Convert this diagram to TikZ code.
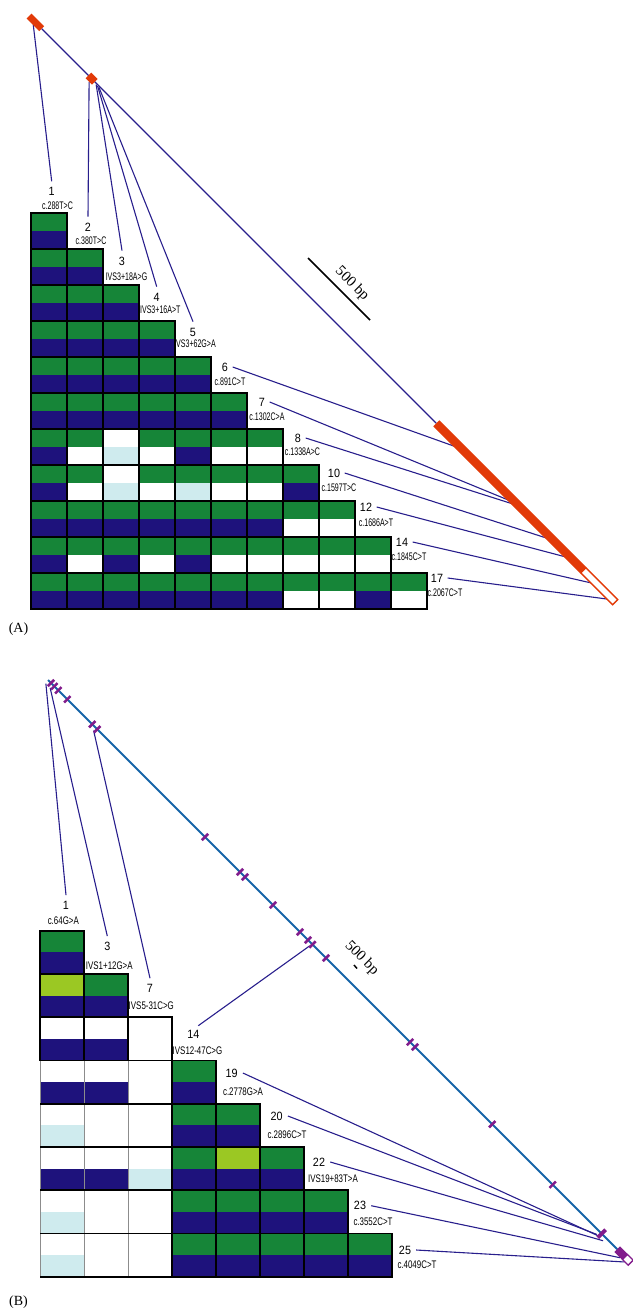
\documentclass[tikz,border=0pt]{standalone}
\usepackage{fontspec}
\setmainfont{Liberation Serif}
\newfontfamily\numfont[FakeStretch=0.9]{Liberation Sans}
\newfontfamily\mutAfont[FakeStretch=0.64]{Liberation Sans}
\newfontfamily\mutBfont[FakeStretch=0.72]{Liberation Sans}
\usetikzlibrary{calc}

% haplotype cell colours
\definecolor{cG}{RGB}{22,133,56}
\definecolor{cN}{RGB}{30,18,124}
\definecolor{cW}{RGB}{255,255,255}
\definecolor{cC}{RGB}{207,235,238}
\definecolor{cY}{RGB}{155,200,35}
% gene drawing colours
\definecolor{exonA}{RGB}{226,58,8}
\definecolor{exonB}{RGB}{130,28,140}
\definecolor{intronB}{RGB}{22,100,168}
\definecolor{link}{RGB}{40,30,140}

% one row of two-colour cells: #1 = row index, #2 = list of top/bottom colour codes
\newcommand\gridrowA[2]{\foreach \t/\b [count=\c] in {#2}{%
  \path[fill=c\t] ({31+36*(\c-1)},{213+36*(#1-1)}) rectangle +(36,18);
  \path[fill=c\b] ({31+36*(\c-1)},{231+36*(#1-1)}) rectangle +(36,18);}}
\newcommand\gridrowB[2]{\foreach \t/\b [count=\c] in {#2}{%
  \path[fill=c\t] ({40+44*(\c-1)},{930.7+43.25*(#1-1)}) rectangle +(44,21.625);
  \path[fill=c\b] ({40+44*(\c-1)},{952.325+43.25*(#1-1)}) rectangle +(44,21.625);}}

\begin{document}
\begin{tikzpicture}[x=1pt,y=-1pt,
  num/.style={font=\numfont\fontsize{12}{12}\selectfont,inner sep=0pt},
  mutA/.style={font=\mutAfont\fontsize{11}{11}\selectfont,inner sep=0pt},
  mutB/.style={font=\mutBfont\fontsize{11}{11}\selectfont,inner sep=0pt},
  linkline/.style={draw=link,line width=1.1pt},
  cellframe/.style={draw=black,line width=1.8pt},
  scaletext/.style={font=\fontsize{15}{15}\selectfont,inner sep=0pt},
  panel/.style={font=\fontsize{14}{14}\selectfont,inner sep=0pt}]
\useasboundingbox (0,0) rectangle (632,1312);

% ---------------- panel A: labels ----------------
\node[num]  (nA1)  at (51.7,191.7) {1};   \node[mutA] (mA1)  at (57.5,206)  {c.288T>C};
\node[num]  (nA2)  at (88,227)     {2};   \node[mutA] (mA2)  at (91,241)    {c.380T>C};
\node[num]  (nA3)  at (122,261)    {3};   \node[mutA] (mA3)  at (126.5,277) {IVS3+18A>G};
\node[num]  (nA4)  at (156.7,297)  {4};   \node[mutA] (mA4)  at (160.3,310) {IVS3+16A>T};
\node[num]  (nA5)  at (193,332)    {5};   \node[mutA] (mA5)  at (195,344)   {IVS3+62G>A};
\node[num]  (nA6)  at (225,367)    {6};   \node[mutA] (mA6)  at (230,382)   {c.891C>T};
\node[num]  (nA7)  at (262,402)    {7};   \node[mutA] (mA7)  at (267,417)   {c.1302C>A};
\node[num]  (nA8)  at (298,438)    {8};   \node[mutA] (mA8)  at (302.5,452) {c.1338A>C};
\node[num]  (nA10) at (334,473)    {10};  \node[mutA] (mA10) at (339,488)   {c.1597T>C};
\node[num]  (nA12) at (366,507)    {12};  \node[mutA] (mA12) at (376,523)   {c.1686A>T};
\node[num]  (nA14) at (402,542)    {14};  \node[mutA] (mA14) at (409,557)   {c.1845C>T};
\node[num]  (nA17) at (437,578)    {17};  \node[mutA] (mA17) at (445,593)   {c.2067C>T};

% attachment points on gene A
\begin{scope}[shift={(29,16)},rotate=-45]
  \coordinate (gA1)  at (9,3);
  \coordinate (gA2)  at (89,4);
  \coordinate (gA3)  at (96,1);
  \coordinate (gA4)  at (98,1);
  \coordinate (gA5)  at (100,1);
  \coordinate (gA6)  at (606,3);
  \coordinate (gA7)  at (682,3);
  \coordinate (gA8)  at (687,3);
  \coordinate (gA10) at (735.5,3);
  \coordinate (gA12) at (762,3);
  \coordinate (gA14) at (799,3);
  \coordinate (gA17) at (821.7,3);
\end{scope}

% connectors A
\foreach \k in {1,2,3,4,5}
  \draw[linkline] (gA\k) -- ([yshift=6pt]nA\k.north);
\foreach \k in {6,7,8,10,12,14,17}
  \draw[linkline] ([xshift=4.5pt]nA\k.east) -- (gA\k);

% gene A
\begin{scope}[shift={(29,16)},rotate=-45]
  \draw[link,line width=1.2pt] (18,0) -- (576,0);
  \draw[exonA,line width=7pt] (0,0) -- (18,0);
  \draw[exonA,line width=8pt] (84,0) -- (93,0);
  \draw[exonA,line width=8.5pt] (576,0) -- (784,0);
  \draw[exonA,line width=1.3pt,fill=white] (784,-3.6) rectangle (829,3.6);
\end{scope}

% scale bar A
\draw[black,line width=1.5pt] (308,258) -- (370,320);
\node[scaletext,rotate=-45] (sA) at (352,284) {500 bp};

% haplotype grid A
\gridrowA{1}{G/N}
\gridrowA{2}{G/N,G/N}
\gridrowA{3}{G/N,G/N,G/N}
\gridrowA{4}{G/N,G/N,G/N,G/N}
\gridrowA{5}{G/N,G/N,G/N,G/N,G/N}
\gridrowA{6}{G/N,G/N,G/N,G/N,G/N,G/N}
\gridrowA{7}{G/N,G/W,W/C,G/W,G/N,G/W,G/W}
\gridrowA{8}{G/N,G/W,W/C,G/W,G/C,G/W,G/W,G/N}
\gridrowA{9}{G/N,G/N,G/N,G/N,G/N,G/N,G/N,G/W,G/W}
\gridrowA{10}{G/N,G/W,G/N,G/W,G/N,G/W,G/W,G/W,G/W,G/W}
\gridrowA{11}{G/N,G/N,G/N,G/N,G/N,G/N,G/N,G/W,G/W,G/N,G/W}
\foreach \r in {1,...,11}
  \foreach \c in {1,...,\r}
    \draw[cellframe] ({31+36*(\c-1)},{213+36*(\r-1)}) rectangle +(36,36);

\node[panel] (pA) at (18.5,629) {(A)};

% ---------------- panel B: labels ----------------
\node[num] (nB1)  at (66,905)      {1};   \node[mutB] (mB1)  at (63.3,920.7)  {c.64G>A};
\node[num] (nB3)  at (107.3,946)   {3};   \node[mutB] (mB3)  at (109.3,966)   {IVS1+12G>A};
\node[num] (nB7)  at (150,988)     {7};   \node[mutB] (mB7)  at (151.3,1005.7){IVS5-31C>G};
\node[num] (nB14) at (193.3,1034)  {14};  \node[mutB] (mB14) at (197.5,1050.7){IVS12-47C>G};
\node[num] (nB19) at (231.7,1073)  {19};  \node[mutB] (mB19) at (243,1092)    {c.2778G>A};
\node[num] (nB20) at (276.7,1116)  {20};  \node[mutB] (mB20) at (287,1135)    {c.2896C>T};
\node[num] (nB22) at (319,1162)    {22};  \node[mutB] (mB22) at (333,1179)    {IVS19+83T>A};
\node[num] (nB23) at (360,1205.7)  {23};  \node[mutB] (mB23) at (373,1222)    {c.3552C>T};
\node[num] (nB25) at (405,1250)    {25};  \node[mutB] (mB25) at (417,1265)    {c.4049C>T};

% attachment points on gene B
\begin{scope}[shift={(48,680)},rotate=-45]
  \coordinate (gB1)  at (1,4);
  \coordinate (gB3)  at (7,4);
  \coordinate (gB7)  at (68,3.5);
  \coordinate (gB14) at (373,3);
  \coordinate (gB19) at (782,4);
  \coordinate (gB20) at (780,4);
  \coordinate (gB22) at (789,4);
  \coordinate (gB23) at (813,4);
  \coordinate (gB25) at (819,4);
\end{scope}

% connectors B
\foreach \k in {1,3,7}
  \draw[linkline] (gB\k) -- ([yshift=5.5pt]nB\k.north);
\draw[linkline] (gB14) -- ([shift={(5,-4)}]nB14.north);
\foreach \k in {19,20,22,23,25}
  \draw[linkline] ([xshift=5pt]nB\k.east) -- (gB\k);

% gene B
\begin{scope}[shift={(48,680)},rotate=-45]
  \draw[intronB,line width=1.8pt] (0,0) -- (805,0);
  \foreach \t in {4.2,8.9,14.6,27.3,62.6,69.7,222,271.5,278.6,318.2,356.4,367.7,374,393.2,512,519,628.3,713.7}
    \draw[exonB,line width=2.6pt] (\t,-4.5) -- (\t,4.5);
  \draw[exonB,line width=4pt] (783,-5.5) -- (783,5.5);
  \draw[exonB,line width=8pt] (805,0) -- (816,0);
  \draw[exonB,line width=1.3pt,fill=white] (816,-3.5) rectangle (824,3.5);
\end{scope}

% scale bar B
\draw[black,line width=1.5pt] (354,965) -- (357,968.5);
\node[scaletext,rotate=-45] (sB) at (361.7,958.3) {500 bp};

% haplotype grid B
\gridrowB{1}{G/N}
\gridrowB{2}{Y/N,G/N}
\gridrowB{3}{W/N,W/N,W/W}
\gridrowB{4}{W/N,W/N,W/W,G/N}
\gridrowB{5}{W/C,W/W,W/W,G/N,G/N}
\gridrowB{6}{W/N,W/N,W/C,G/N,Y/N,G/N}
\gridrowB{7}{W/C,W/W,W/W,G/N,G/N,G/N,G/N}
\gridrowB{8}{W/C,W/W,W/W,G/N,G/N,G/N,G/N,G/N}
% lighter vertical rules in the left block of the lower rows
\foreach \r in {4,...,8}
  \foreach \c in {1,2,3}
    \draw[black!45,line width=1pt] ({40+44*(\c-1)},{930.7+43.25*(\r-1)}) rectangle +(44,43.25);
\foreach \r in {4,...,9}
  \draw[black,line width=1.8pt] (40,{930.7+43.25*(\r-1)}) -- (172,{930.7+43.25*(\r-1)});
\foreach \r in {1,2,3}
  \foreach \c in {1,...,\r}
    \draw[cellframe] ({40+44*(\c-1)},{930.7+43.25*(\r-1)}) rectangle +(44,43.25);
\foreach \r in {4,...,8}
  \foreach \c in {4,...,\r}
    \draw[cellframe] ({40+44*(\c-1)},{930.7+43.25*(\r-1)}) rectangle +(44,43.25);

\node[panel] (pB) at (18.5,1302) {(B)};
\end{tikzpicture}
\end{document}
